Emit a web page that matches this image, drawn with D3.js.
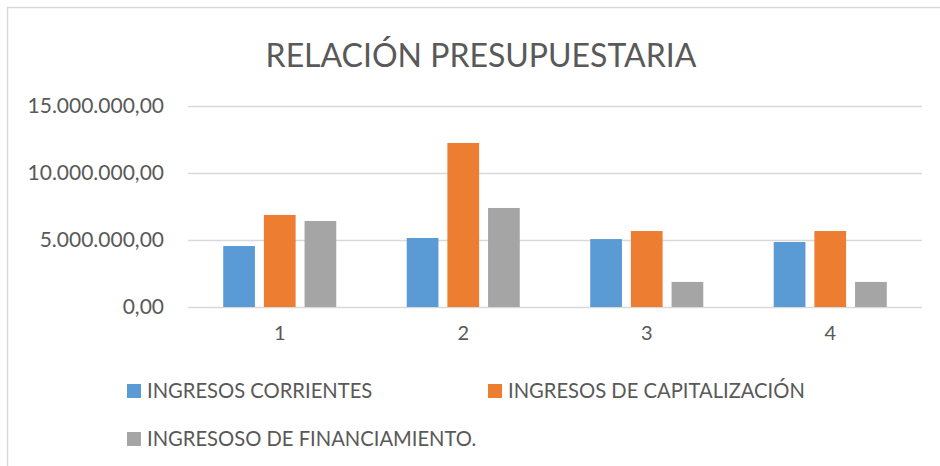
<!DOCTYPE html>
<html>
<head>
<meta charset="utf-8">
<script src="https://cdn.jsdelivr.net/npm/d3@7"></script>
<style>
  body { margin: 0; background: #fff; }
  text { font-family: Lato, "Open Sans", sans-serif; fill: #595959; }
</style>
</head>
<body>
<svg id="chart"></svg>
<script>
// data
var categories = ["1", "2", "3", "4"];
var seriesNames = ["INGRESOS CORRIENTES", "INGRESOS DE CAPITALIZACIÓN", "INGRESOSO DE FINANCIAMIENTO."];
var corrientes     = [4550000, 5150000, 5070000, 4850000];
var capitalizacion = [6870000, 12240000, 5670000, 5670000];
var financiamiento = [6420000, 7390000, 1870000, 1870000];
var yTicks = [0, 5000000, 10000000, 15000000];
var colors = ["#5B9BD5", "#ED7D31", "#A5A5A5"];

var W = 940, H = 466;
var plotL = 188, plotR = 922, plotT = 106, plotB = 307;

var svg = d3.select("#chart").attr("width", W).attr("height", H);

// chart frame
svg.append("path").attr("d", "M7.5," + H + "V7.5H" + W)
    .attr("fill", "none").attr("stroke", "#d9d9d9").attr("stroke-width", 1.5);

svg.append("text").attr("x", 481).attr("y", 67).attr("text-anchor", "middle")
    .style("font-size", "32px")
    .text("RELACIÓN PRESUPUESTARIA");

var locale = d3.formatLocale({decimal: ",", thousands: ".", grouping: [3], currency: ["", ""]});
var fmt = locale.format(",.2f");

var y = d3.scaleLinear().domain([0, 15000000]).range([plotB, plotT]);
var x0 = d3.scaleBand().domain(categories).range([plotL, plotR])
    .paddingInner(0.384).paddingOuter(0.192);
var x1 = d3.scaleBand().domain(d3.range(3)).range([0, x0.bandwidth()])
    .paddingInner(0.22).paddingOuter(0);

var yAxis = svg.append("g").attr("transform", "translate(" + plotL + ",0)")
    .call(d3.axisLeft(y).tickValues(yTicks).tickFormat(fmt)
        .tickSize(-(plotR - plotL)).tickPadding(24));
yAxis.select(".domain").remove();
yAxis.selectAll("line").attr("stroke", "#d9d9d9").attr("stroke-width", 1.5);
yAxis.selectAll("text").style("font-size", "21px").style("font-family", null).attr("fill", null);

var xAxis = svg.append("g").attr("transform", "translate(0," + plotB + ")")
    .call(d3.axisBottom(x0).tickSize(0).tickPadding(19));
xAxis.select(".domain").remove();
xAxis.selectAll("text").style("font-size", "20px").style("font-family", null).attr("fill", null);

var series = [corrientes, capitalizacion, financiamiento];
var groups = svg.append("g").selectAll("g").data(categories).join("g")
    .attr("transform", function(d){ return "translate(" + x0(d) + ",0)"; });
groups.selectAll("rect")
    .data(function(d, i){ return series.map(function(s, k){ return {k: k, v: s[i]}; }); })
    .join("rect")
    .attr("x", function(d){ return x1(d.k); })
    .attr("width", x1.bandwidth())
    .attr("y", function(d){ return y(d.v); })
    .attr("height", function(d){ return y(0) - y(d.v); })
    .attr("fill", function(d){ return colors[d.k]; });

// legend
var legendPos = [[127, 391], [488, 391], [127, 439]];
var legend = svg.append("g").selectAll("g").data(seriesNames).join("g")
    .attr("transform", function(d, i){ return "translate(" + legendPos[i][0] + "," + legendPos[i][1] + ")"; });
legend.append("rect").attr("x", 0).attr("y", -7).attr("width", 14).attr("height", 14)
    .attr("fill", function(d, i){ return colors[i]; });
legend.append("text").attr("x", 20).attr("dy", "0.36em")
    .style("font-size", "20.2px").text(function(d){ return d; });
</script>
</body>
</html>
